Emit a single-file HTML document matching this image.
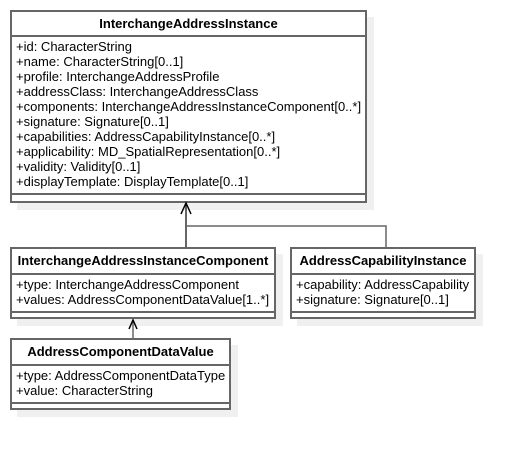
<!DOCTYPE html>
<html><head><meta charset="utf-8"><style>
body{margin:0;background:#fff;width:515px;height:450px;overflow:hidden;position:relative;font-family:"Liberation Sans",Arial,sans-serif;font-size:13px;color:#000}
.b{position:absolute;background:#fff;border:2px solid #666;box-sizing:border-box;box-shadow:7px 7px 0 #f0f0f0}
.h{font-weight:bold;text-align:center;border-bottom:2px solid #666;box-sizing:border-box}
.a{padding:2px 0 0 4px;line-height:15px;white-space:nowrap;box-sizing:border-box;border-bottom:2px solid #666}
</style></head><body>
<div class="b" style="left:10px;top:10px;width:357px;height:193px">
<div class="h" style="height:25px;line-height:23px">InterchangeAddressInstance</div>
<div class="a" style="height:158px">+id: CharacterString<br>+name: CharacterString[0..1]<br>+profile: InterchangeAddressProfile<br>+addressClass: InterchangeAddressClass<br>+components: InterchangeAddressInstanceComponent[0..*]<br>+signature: Signature[0..1]<br>+capabilities: AddressCapabilityInstance[0..*]<br>+applicability: MD_SpatialRepresentation[0..*]<br>+validity: Validity[0..1]<br>+displayTemplate: DisplayTemplate[0..1]</div>
</div>
<div class="b" style="left:10px;top:247px;width:266px;height:72px">
<div class="h" style="height:26px;line-height:24px">InterchangeAddressInstanceComponent</div>
<div class="a" style="height:38px">+type: InterchangeAddressComponent<br>+values: AddressComponentDataValue[1..*]</div>
</div>
<div class="b" style="left:290px;top:247px;width:186px;height:72px">
<div class="h" style="height:26px;line-height:24px">AddressCapabilityInstance</div>
<div class="a" style="height:38px">+capability: AddressCapability<br>+signature: Signature[0..1]</div>
</div>
<div class="b" style="left:10px;top:338px;width:221px;height:72px">
<div class="h" style="height:26px;line-height:24px">AddressComponentDataValue</div>
<div class="a" style="height:38px">+type: AddressComponentDataType<br>+value: CharacterString</div>
</div>
<svg width="515" height="450" style="position:absolute;left:0;top:0" fill="none" stroke-width="1.5">
<path d="M186 203V247" stroke="#333"/>
<path d="M186 226H386V247" stroke="#666"/>
<path d="M181 214L186 203L191 214" stroke="#000"/>
<path d="M133 320V338" stroke="#666"/>
<path d="M129 329L133 320L137 329" stroke="#000"/>
</svg>
</body></html>
